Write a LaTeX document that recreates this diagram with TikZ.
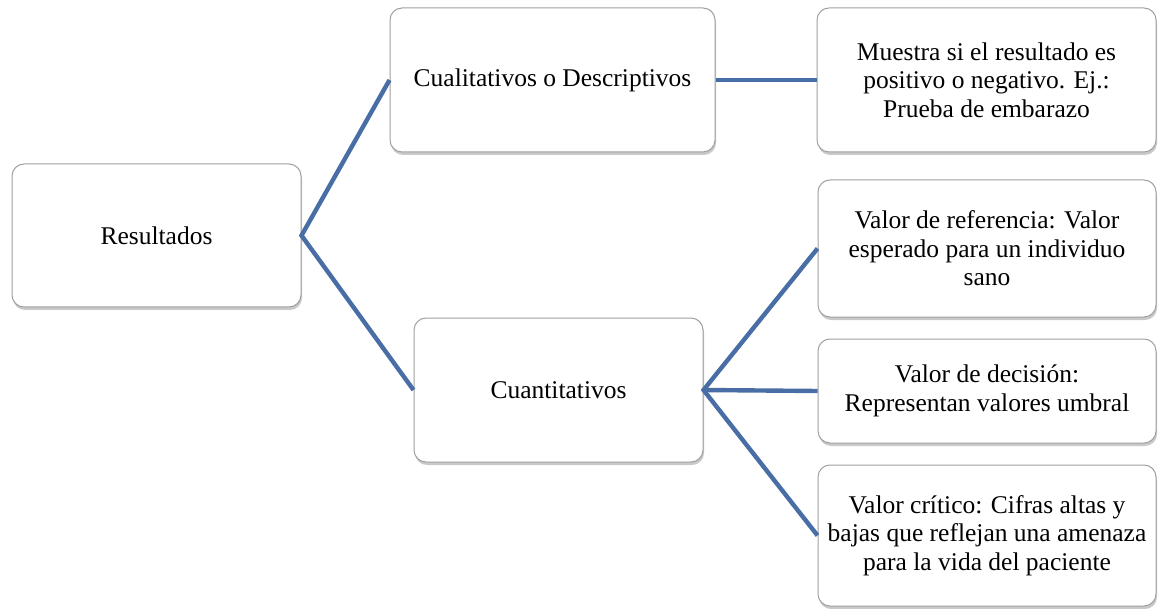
\documentclass[tikz,border=0pt]{standalone}
\usepackage{fontspec}
\setmainfont{Liberation Serif}
\usetikzlibrary{shadows}
\definecolor{linkblue}{RGB}{72,110,165}
\definecolor{boxline}{RGB}{160,160,160}
\begin{document}
\begin{tikzpicture}[x=1pt,y=-1pt,
  card/.style={draw=boxline, line width=1pt, fill=white, rounded corners=12pt,
    align=center, inner sep=2pt, font=\fontsize{25.5}{28.5}\selectfont,
    drop shadow={shadow xshift=1pt, shadow yshift=-3pt, opacity=0.35, fill=black!60}},
  link/.style={draw=linkblue, line width=4.4pt}]
\useasboundingbox (0,0) rectangle (1158,609);
\fill[white] (0,0) rectangle (1158,609);

\node[card, minimum width=289pt, minimum height=143pt] (res) at (156.5,235.5) {Resultados};
\node[card, minimum width=325pt, minimum height=144pt] (cual) at (552.5,80) {Cualitativos o Descriptivos};
\node[card, minimum width=289pt, minimum height=144pt] (cuant) at (558.5,390) {Cuantitativos};
\node[card, minimum width=339pt, minimum height=144pt] (mues) at (986.5,80)
  {Muestra si el resultado es\\positivo o negativo. Ej.:\\Prueba de embarazo};
\node[card, minimum width=338pt, minimum height=137pt] (ref) at (987,248.5)
  {Valor de referencia: Valor\\esperado para un individuo\\sano};
\node[card, minimum width=338pt, minimum height=104pt] (dec) at (987,391)
  {Valor de decisión:\\Representan valores umbral};
\node[card, minimum width=338pt, minimum height=141pt] (crit) at (987,535.5)
  {Valor crítico: Cifras altas y\\bajas que reflejan una amenaza\\para la vida del paciente};

\draw[link] (cual.west) -- (res.east) -- (cuant.west);
\draw[link] (cual.east) -- (mues.west);
\draw[link] (ref.west) -- (cuant.east) -- (crit.west);
\draw[link] (cuant.east) -- (dec.west);
\end{tikzpicture}
\end{document}
